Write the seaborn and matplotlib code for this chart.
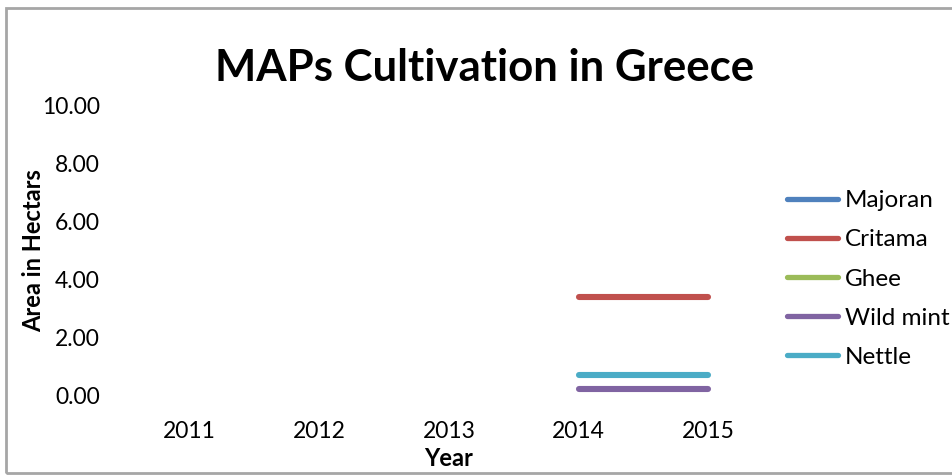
import numpy as np
import pandas as pd
import matplotlib
matplotlib.use("Agg")
import matplotlib.pyplot as plt
import seaborn as sns
from matplotlib.lines import Line2D
from matplotlib.patches import Rectangle

years = ["2011", "2012", "2013", "2014", "2015"]
series_names = ["Majoran", "Critama", "Ghee", "Wild mint", "Nettle"]
majoran = [np.nan, np.nan, np.nan, np.nan, np.nan]
critama = [np.nan, np.nan, np.nan, 3.4, 3.4]
ghee = [np.nan, np.nan, np.nan, np.nan, np.nan]
wild_mint = [np.nan, np.nan, np.nan, 0.2, 0.2]
nettle = [np.nan, np.nan, np.nan, 0.7, 0.7]
colors = ["#4F81BD", "#C0504D", "#9BBB59", "#8064A2", "#4BACC6"]
yticks = [0, 2, 4, 6, 8, 10]

sns.set_theme(style="white")
plt.rcParams["font.family"] = ["Lato", "DejaVu Sans"]
plt.rcParams["text.color"] = "black"
plt.rcParams["axes.labelcolor"] = "black"

values = [majoran, critama, ghee, wild_mint, nettle]
rows = []
for name, vals in zip(series_names, values):
    for yr, v in zip(years, vals):
        rows.append({"Year": yr, "Series": name, "Area": v})
df = pd.DataFrame(rows)

fig = plt.figure(figsize=(9.52, 4.75), dpi=100)
ax = fig.add_axes([125 / 952, 1 - 395 / 475, (773 - 125) / 952, (395 - 106) / 475])

ax.plot(years, [np.nan] * len(years), alpha=0)  # establish categorical axis order
sns.lineplot(data=df.dropna(), x="Year", y="Area", hue="Series",
             hue_order=series_names, palette=colors, linewidth=4.4,
             ax=ax, legend=False, estimator=None, sort=False)

ax.set_xlim(-0.5, 4.5)
ax.set_ylim(0, 10)
ax.set_yticks(yticks)
ax.set_yticklabels([f"{v:.2f}" for v in yticks])
ax.tick_params(axis="both", labelsize=16.5, colors="black", length=0)
ax.tick_params(axis="y", pad=18)
ax.tick_params(axis="x", pad=19)
for s in ax.spines.values():
    s.set_visible(False)
ax.grid(False)

ax.set_xlabel("Year", fontsize=17, fontweight="bold", labelpad=3, color="black")
ax.set_ylabel("Area in Hectars", fontsize=17, fontweight="bold", labelpad=-2, color="black")

fig.text(485 / 952, 1 - 68 / 475, "MAPs Cultivation in Greece", ha="center", va="center",
         fontsize=31.5, fontweight="bold", color="black")

handles = [Line2D([0], [0], color=c, lw=3.8) for c in colors]
leg = fig.legend(handles, series_names, loc="center left",
                 bbox_to_anchor=(765 / 952, 1 - 279 / 475), frameon=False,
                 fontsize=17.5, handlelength=2.1, handletextpad=0.3, labelspacing=0.75)
for t in leg.get_texts():
    t.set_color("black")

fig.patches.append(Rectangle((6 / 952, 2 / 475), 960 / 952, 465 / 475, transform=fig.transFigure,
                             fill=False, edgecolor="#A6A6A6", linewidth=2))

fig.savefig("out.png", dpi=100)
